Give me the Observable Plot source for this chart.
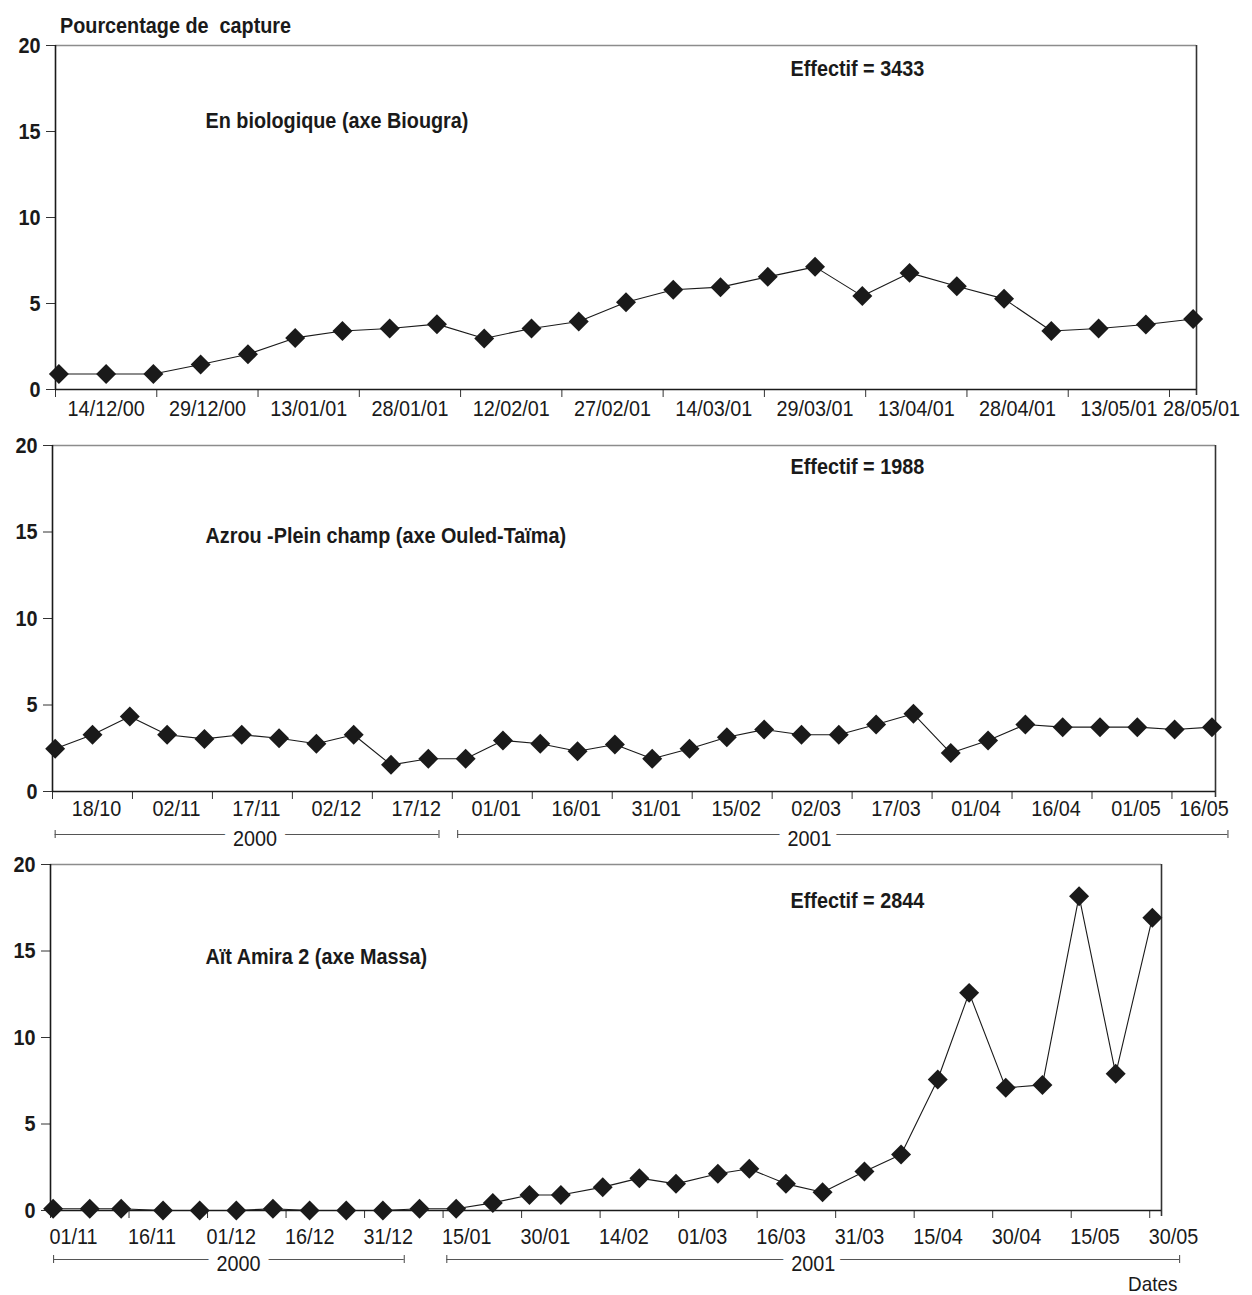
<!DOCTYPE html>
<html><head><meta charset="utf-8">
<script src="https://cdn.jsdelivr.net/npm/d3@7"></script>
<script src="https://cdn.jsdelivr.net/npm/@observablehq/plot@0.6"></script>
<style>
html,body{margin:0;padding:0;background:#fff;}
#wrap{position:relative;width:1252px;height:1295px;overflow:hidden;font-family:'Liberation Sans',Arial,sans-serif;color:#1a1a1a;}
#wrap svg{position:absolute;left:0;}
.lbl{position:absolute;white-space:pre;line-height:1;}
</style></head><body><div id="wrap"></div>
<script>
// ---------- Panel 1 : En biologique (axe Biougra) ----------
const dates1 = ["2000-12-14","2000-12-21","2000-12-28","2001-01-04","2001-01-11","2001-01-18","2001-01-25","2001-02-01","2001-02-08","2001-02-15","2001-02-22","2001-03-01","2001-03-08","2001-03-15","2001-03-22","2001-03-29","2001-04-05","2001-04-12","2001-04-19","2001-04-26","2001-05-03","2001-05-10","2001-05-17","2001-05-24","2001-05-31"];
const values1 = [0.9,0.9,0.9,1.45,2.05,3.0,3.4,3.55,3.8,2.97,3.55,3.95,5.07,5.8,5.95,6.55,7.13,5.43,6.78,6.0,5.27,3.4,3.55,3.78,4.1];
const ticks1 = ["2000-12-14","2000-12-29","2001-01-13","2001-01-28","2001-02-12","2001-02-27","2001-03-14","2001-03-29","2001-04-13","2001-04-28","2001-05-13","2001-05-28"];

// ---------- Panel 2 : Azrou - Plein champ (axe Ouled-Taïma) ----------
const dates2 = ["2000-10-18","2000-10-25","2000-11-01","2000-11-08","2000-11-15","2000-11-22","2000-11-29","2000-12-06","2000-12-13","2000-12-20","2000-12-27","2001-01-03","2001-01-10","2001-01-17","2001-01-24","2001-01-31","2001-02-07","2001-02-14","2001-02-21","2001-02-28","2001-03-07","2001-03-14","2001-03-21","2001-03-28","2001-04-04","2001-04-11","2001-04-18","2001-04-25","2001-05-02","2001-05-09","2001-05-16","2001-05-23"];
const values2 = [2.47,3.28,4.34,3.28,3.04,3.28,3.08,2.76,3.28,1.54,1.89,1.89,2.95,2.76,2.33,2.72,1.89,2.47,3.14,3.58,3.28,3.28,3.87,4.49,2.22,2.95,3.87,3.72,3.72,3.72,3.58,3.72];
const ticks2 = ["2000-10-18","2000-11-02","2000-11-17","2000-12-02","2000-12-17","2001-01-01","2001-01-16","2001-01-31","2001-02-15","2001-03-02","2001-03-17","2001-04-01","2001-04-16","2001-05-01","2001-05-16"];
const years2 = ["2000","2001"];
const yearStart2 = ["2000-10-18T00:00","2001-01-01T12:00"];
const yearEnd2 = ["2000-12-29T00:00","2001-05-26T00:00"];
const yearMid2 = ["2000-11-24T12:00","2001-03-08T12:00"];

// ---------- Panel 3 : Aït Amira 2 (axe Massa) ----------
const dates3 = ["2000-11-01","2000-11-08","2000-11-14","2000-11-22","2000-11-29","2000-12-06","2000-12-13","2000-12-20","2000-12-27","2001-01-03","2001-01-10","2001-01-17","2001-01-24","2001-01-31","2001-02-06","2001-02-14","2001-02-21","2001-02-28","2001-03-08","2001-03-14","2001-03-21","2001-03-28","2001-04-05","2001-04-12","2001-04-19","2001-04-25","2001-05-02","2001-05-09","2001-05-16","2001-05-23","2001-05-30"];
const values3 = [0.1,0.1,0.1,0,0,0,0.1,0,0,0,0.1,0.1,0.44,0.9,0.9,1.35,1.87,1.54,2.12,2.41,1.54,1.06,2.25,3.24,7.57,12.58,7.09,7.26,18.17,7.9,16.92];
const ticks3 = ["2000-11-01","2000-11-16","2000-12-01","2000-12-16","2000-12-31","2001-01-15","2001-01-30","2001-02-14","2001-03-01","2001-03-16","2001-03-31","2001-04-15","2001-04-30","2001-05-15","2001-05-30"];
const years3 = ["2000","2001"];
const yearStart3 = ["2000-11-01T02:00","2001-01-15T05:00"];
const yearEnd3 = ["2001-01-07T02:00","2001-06-04T05:00"];
const yearMid3 = ["2000-12-06T10:00","2001-03-26T05:00"];

const yTicks = [0,5,10,15,20];
const title = "Pourcentage de  capture";
const xTitle = "Dates";

// ---------- drawing ----------
const FONT = "'Liberation Sans',Arial,sans-serif";
const FS = 22;          // font size
const SQUEEZE = 0.9;    // horizontal condensing, to mimic a condensed face
const INK = "#1a1a1a";
const P = s => new Date(s + (s.length === 10 ? "T00:00Z" : "Z"));
const H = (d, h) => new Date(d.getTime() + h * 3600e3);

function panel(cfg) {
  const data = cfg.dates.map((d, i) => ({date: P(d), value: cfg.values[i]}));
  const tickDates = cfg.ticks.map(P);
  const bounds = tickDates.map(d => H(d, -12));
  const dom = cfg.domain.map(P);
  const labels = tickDates.map(d => {
    let pos = cfg.labelMode === "start" ? H(d, -12) : H(d, 7 * 24);
    if (cfg.labelMax && pos > P(cfg.labelMax)) pos = P(cfg.labelMax);
    return {pos, text: d3.utcFormat(cfg.fmt)(d)};
  });
  const marks = [
    Plot.ruleY([20], {stroke: "#8c8c8c", strokeWidth: 1.6}),
    Plot.ruleX([dom[1]], {stroke: "#333", strokeWidth: 1.6, insetBottom: -6}),
    Plot.axisY({ticks: yTicks, label: null, tickSize: 9, tickPadding: 6, fontSize: FS, fontWeight: "bold", fontFamily: FONT, color: INK, stroke: "#333"}),
    Plot.axisX({ticks: bounds, label: null, tickSize: 8, tickFormat: () => "", stroke: "#333"}),
    Plot.ruleX([dom[0]], {stroke: INK, strokeWidth: 1.6}),
    Plot.ruleY([0], {stroke: INK, strokeWidth: 1.6}),
  ];
  if (cfg.years) {
    const br = cfg.years.map((y, i) => ({label: y, start: P(cfg.yStart[i]), end: P(cfg.yEnd[i]), mid: P(cfg.yMid[i])}));
    marks.push(
      Plot.ruleY(br, {x1: "start", x2: "end", y: () => 0, dy: cfg.brDy, stroke: "#555", strokeWidth: 1.1}),
      Plot.ruleX(br.flatMap(b => [b.start, b.end]), {x: d => d, y1: () => 0, y2: () => 0, dy: cfg.brDy, insetTop: -4, insetBottom: -4, stroke: "#555", strokeWidth: 1.1}),
      Plot.text(br, {x: "mid", frameAnchor: "bottom", dy: cfg.brDy + 4, text: "label", fontSize: FS, fontFamily: FONT, fill: INK, stroke: "white", strokeWidth: 20, lineAnchor: "middle"})
    );
  }
  marks.push(
    Plot.text(labels, {x: "pos", frameAnchor: "bottom", dy: cfg.labDy, dx: cfg.labDx || 0, text: "text", fontSize: FS, fontFamily: FONT, fill: INK, lineAnchor: "middle", textAnchor: cfg.labelMode === "start" ? "start" : "middle"}),
    Plot.line(data, {x: "date", y: "value", stroke: INK, strokeWidth: 1.1}),
    Plot.dot(data, {x: "date", y: "value", symbol: "diamond2", r: 9, fill: INK, stroke: "none"}),
    Plot.text([cfg.effectif], {frameAnchor: "top-left", dx: cfg.effDx, dy: cfg.effDy, text: d => d, fontSize: FS, fontWeight: "bold", fontFamily: FONT, fill: INK, textAnchor: "start", lineAnchor: "middle"}),
    Plot.text([cfg.name], {frameAnchor: "top-left", dx: cfg.nameDx, dy: cfg.nameDy, text: d => d, fontSize: FS, fontWeight: "bold", fontFamily: FONT, fill: INK, textAnchor: "start", lineAnchor: "middle"})
  );
  const svg = Plot.plot({
    width: 1252, height: cfg.height,
    marginTop: cfg.mt, marginBottom: cfg.height - cfg.mt - cfg.plotH, marginLeft: cfg.ml, marginRight: cfg.mr,
    x: {type: "utc", domain: dom, axis: null},
    y: {domain: [0, 20], axis: null},
    style: {fontFamily: FONT, overflow: "visible", background: "transparent", color: INK},
    marks
  });
  svg.style.top = cfg.top + "px";
  return svg;
}

function condense(root) {
  root.querySelectorAll("text").forEach(t => {
    const L = t.getComputedTextLength();
    if (L > 0) {
      t.setAttribute("textLength", (L * SQUEEZE).toFixed(2));
      t.setAttribute("lengthAdjust", "spacingAndGlyphs");
    }
  });
}

const wrap = document.getElementById("wrap");
const panels = [
  panel({
    dates: dates1, values: values1, ticks: ticks1, fmt: "%d/%m/%y",
    domain: ["2000-12-13T12:00", "2001-05-31T12:00"], labelMode: "center", labelMax: "2001-06-01T06:00",
    top: 35, height: 390, mt: 10, plotH: 344, ml: 55, mr: 56, labDy: 19, labDx: 0,
    effectif: "Effectif = 3433", effDx: 735, effDy: 23,
    name: "En biologique (axe Biougra)", nameDx: 150, nameDy: 75
  }),
  panel({
    dates: dates2, values: values2, ticks: ticks2, fmt: "%d/%m",
    domain: ["2000-10-17T12:00", "2001-05-23T16:00"], labelMode: "center", labelMax: "2001-05-20T18:00",
    top: 425, height: 425, mt: 20, plotH: 346, ml: 52, mr: 37, labDy: 17, labDx: 4,
    years: years2, yStart: yearStart2, yEnd: yearEnd2, yMid: yearMid2, brDy: 43,
    effectif: "Effectif = 1988", effDx: 738, effDy: 21,
    name: "Azrou -Plein champ (axe Ouled-Taïma)", nameDx: 153, nameDy: 90
  }),
  panel({
    dates: dates3, values: values3, ticks: ticks3, fmt: "%d/%m",
    domain: ["2000-10-31T12:00", "2001-05-31T18:00"], labelMode: "start",
    top: 850, height: 445, mt: 14, plotH: 346, ml: 50, mr: 91, labDy: 26, labDx: -1,
    years: years3, yStart: yearStart3, yEnd: yearEnd3, yMid: yearMid3, brDy: 49,
    effectif: "Effectif = 2844", effDx: 740, effDy: 36,
    name: "Aït Amira 2 (axe Massa)", nameDx: 155, nameDy: 92
  })
];
panels.forEach(s => { wrap.appendChild(s); condense(s); });

const t = document.createElement("div");
t.className = "lbl";
t.textContent = title;
Object.assign(t.style, {left: "60px", top: "15px", fontSize: FS + "px", fontWeight: "bold", transform: `scaleX(${SQUEEZE})`, transformOrigin: "left center"});
wrap.appendChild(t);

const xt = document.createElement("div");
xt.className = "lbl";
xt.textContent = xTitle;
Object.assign(xt.style, {left: "1128px", top: "1273px", fontSize: "21px", transform: `scaleX(${SQUEEZE})`, transformOrigin: "left center"});
wrap.appendChild(xt);
</script>
</body></html>
